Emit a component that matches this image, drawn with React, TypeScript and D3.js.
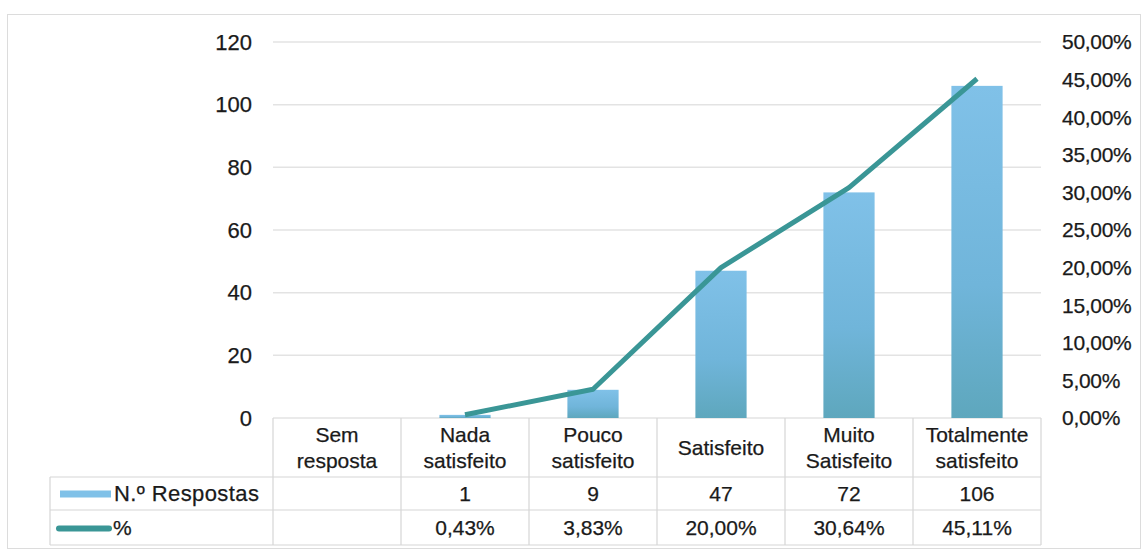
import React from "react";
import * as d3 from "d3";

const categories = [
  ["Sem", "resposta"],
  ["Nada", "satisfeito"],
  ["Pouco", "satisfeito"],
  ["Satisfeito"],
  ["Muito", "Satisfeito"],
  ["Totalmente", "satisfeito"],
];
const respostas: (number | null)[] = [null, 1, 9, 47, 72, 106];
const percentagens: (number | null)[] = [null, 0.43, 3.83, 20.0, 30.64, 45.11];
const leftTicks = [0, 20, 40, 60, 80, 100, 120];
const rightTicks = [0, 5, 10, 15, 20, 25, 30, 35, 40, 45, 50];
const seriesNames = ["N.º Respostas", "%"];

const W = 1145;
const H = 551;
const plot = { left: 273, right: 1041, top: 42, bottom: 418 };
const rows = { header: 477, r1: 510, r2: 545 };
const tableLeft = 50;
const font = "'Liberation Sans', Arial, sans-serif";
const barTop = "#80c1e8";
const barBottom = "#5ea7bd";
const lineColor = "#3a9696";
const textColor = "#1a1a1a";

const fmtPct = (v: number) => v.toFixed(2).replace(".", ",") + "%";

export default function App() {
  const colW = (plot.right - plot.left) / categories.length;
  const x = d3
    .scaleBand<number>()
    .domain(categories.map((_, i) => i))
    .range([plot.left, plot.right]);
  const cx = (i: number) => (x(i) as number) + x.bandwidth() / 2;
  const yL = d3.scaleLinear().domain([0, 120]).range([plot.bottom, plot.top]);
  const yR = d3.scaleLinear().domain([0, 50]).range([plot.bottom, plot.top]);

  const line = d3
    .line<[number, number | null]>()
    .defined((d) => d[1] !== null)
    .x((d) => cx(d[0]))
    .y((d) => yR(d[1] as number));
  const pts = percentagens.map((v, i) => [i, v] as [number, number | null]);

  const bw = colW * 0.4;
  const vLines = d3.range(categories.length + 1).map((i) => plot.left + colW * i);
  const r1Mid = (rows.header + rows.r1) / 2;
  const r2Mid = (rows.r1 + rows.r2) / 2;
  const txt = { fontFamily: font, fontSize: 21, fill: textColor, stroke: textColor, strokeWidth: 0.25 };

  return (
    <svg width={W} height={H} style={{ display: "block", position: "absolute", left: 0, top: 0 }}>
      <defs>
        <linearGradient id="barGrad" x1="0" y1="0" x2="0" y2="1">
          <stop offset="0" stopColor={barTop} />
          <stop offset="0.6" stopColor="#70b5da" />
          <stop offset="1" stopColor={barBottom} />
        </linearGradient>
      </defs>
      <rect x={0} y={0} width={W} height={H} fill="#fff" />
      <rect x={7.5} y={14.5} width={W - 12} height={534} fill="none" stroke="#dcdcdc" />

      {/* gridlines */}
      {leftTicks.map((t) => (
        <line key={t} x1={plot.left} x2={plot.right} y1={yL(t)} y2={yL(t)} stroke="#e3e3e3" strokeWidth={1.5} />
      ))}

      {/* left axis */}
      {leftTicks.map((t) => (
        <text key={t} x={252} y={yL(t)} dy="0.35em" textAnchor="end" {...txt} fontSize={22}>
          {t}
        </text>
      ))}
      {/* right axis */}
      {rightTicks.map((t) => (
        <text key={t} x={1062} y={yR(t)} dy="0.35em" textAnchor="start" {...txt} letterSpacing={-0.3}>
          {fmtPct(t)}
        </text>
      ))}

      {/* bars */}
      {respostas.map((v, i) =>
        v === null ? null : (
          <rect
            key={i}
            x={cx(i) - bw / 2}
            y={yL(v)}
            width={bw}
            height={plot.bottom - yL(v)}
            fill="url(#barGrad)"
          />
        )
      )}

      {/* line */}
      <path d={line(pts) || ""} fill="none" stroke={lineColor} strokeWidth={5} strokeLinejoin="round" />

      {/* data table */}
      <g stroke="#d6d6d6" strokeWidth={1.2}>
        {vLines.map((vx, i) => (
          <line key={i} x1={vx} x2={vx} y1={plot.bottom} y2={rows.r2} />
        ))}
        <line x1={tableLeft} x2={tableLeft} y1={rows.header} y2={rows.r2} />
        <line x1={tableLeft} x2={plot.right} y1={rows.header} y2={rows.header} />
        <line x1={tableLeft} x2={plot.right} y1={rows.r1} y2={rows.r1} />
        <line x1={tableLeft} x2={plot.right} y1={rows.r2} y2={rows.r2} />
      </g>

      {categories.map((lines, i) => {
        const mid = (plot.bottom + rows.header) / 2;
        const lh = 26;
        const start = mid - ((lines.length - 1) * lh) / 2;
        return lines.map((t, j) => (
          <text key={i + "-" + j} x={cx(i)} y={start + j * lh} dy="0.35em" textAnchor="middle" {...txt}>
            {t}
          </text>
        ));
      })}
      {respostas.map((v, i) =>
        v === null ? null : (
          <text key={i} x={cx(i)} y={r1Mid} dy="0.35em" textAnchor="middle" {...txt}>
            {v}
          </text>
        )
      )}
      {percentagens.map((v, i) =>
        v === null ? null : (
          <text key={i} x={cx(i)} y={r2Mid} dy="0.35em" textAnchor="middle" {...txt}>
            {fmtPct(v)}
          </text>
        )
      )}

      {/* legend keys */}
      <rect x={60} y={r1Mid - 3} width={51} height={7} fill={barTop} />
      <text x={114} y={r1Mid} dy="0.35em" {...txt} fontSize={22} letterSpacing={0.4}>
        {seriesNames[0]}
      </text>
      <line x1={59} x2={109} y1={r2Mid + 1} y2={r2Mid + 1} stroke={lineColor} strokeWidth={6} strokeLinecap="round" />
      <text x={113} y={r2Mid} dy="0.35em" {...txt}>
        {seriesNames[1]}
      </text>
    </svg>
  );
}
